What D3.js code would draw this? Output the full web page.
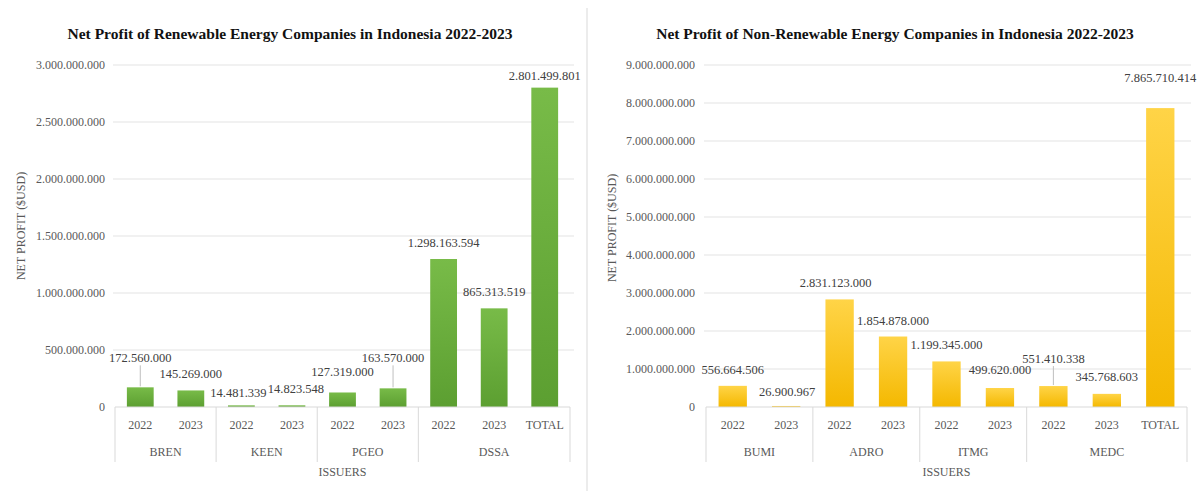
<!DOCTYPE html>
<html lang="en">
<head>
<meta charset="utf-8">
<title>Net Profit of Energy Companies in Indonesia 2022-2023</title>
<script src="https://cdn.jsdelivr.net/npm/d3@7"></script>
<style>
  body { margin: 0; background: #fff; }
  svg text { font-family: "Liberation Serif", "Times New Roman", serif; }
</style>
</head>
<body>
<script>
// --- data: renewable
var renewGroups = ["BREN", "KEEN", "PGEO", "DSSA"];
var renewGroupSizes = [2, 2, 2, 3];
var renewCats = ["2022", "2023", "2022", "2023", "2022", "2023", "2022", "2023", "TOTAL"];
var renewValues = [172560000, 145269000, 14481339, 14823548, 127319000, 163570000, 1298163594, 865313519, 2801499801];
var renewTicks = [0, 500000000, 1000000000, 1500000000, 2000000000, 2500000000, 3000000000];

// --- data: non-renewable
var nonGroups = ["BUMI", "ADRO", "ITMG", "MEDC"];
var nonGroupSizes = [2, 2, 2, 3];
var nonCats = ["2022", "2023", "2022", "2023", "2022", "2023", "2022", "2023", "TOTAL"];
var nonValues = [556664506, 26900967, 2831123000, 1854878000, 1199345000, 499620000, 551410338, 345768603, 7865710414];
var nonTicks = [0, 1000000000, 2000000000, 3000000000, 4000000000, 5000000000, 6000000000, 7000000000, 8000000000, 9000000000];

// label nudges (px) where the labels were dragged in the original, and which ones have a leader line
var renewNudge = [[0, -13], [0, 0], [-3, 4], [4, 0], [0, -4], [0, -14], [0, 0], [0, 0], [0, 4]];
var renewLeader = [true, false, false, false, false, true, false, false, false];
var nonNudge = [[0, 0], [1, 2], [-4, 0], [0, 0], [0, 0], [0, -2], [0, -11], [0, -1], [0, -14]];
var nonLeader = [false, false, false, false, false, false, true, false, false];

var W = 1197, H = 491;
var FONT = "Liberation Serif, Times New Roman, serif";
var loc = d3.formatLocale({decimal: ",", thousands: ".", grouping: [3], currency: ["$", ""]});
var fmt = loc.format(",");

var svg = d3.select("body").append("svg")
    .attr("width", W)
    .attr("height", H)
    .attr("font-family", FONT);

var defs = svg.append("defs");
function grad(id, c1, c2) {
    var g = defs.append("linearGradient").attr("id", id)
        .attr("x1", 0).attr("y1", 0).attr("x2", 0).attr("y2", 1);
    g.append("stop").attr("offset", "0%").attr("stop-color", c1);
    g.append("stop").attr("offset", "100%").attr("stop-color", c2);
}
grad("gGreen", "#78bb48", "#5c9f31");
grad("gYellow", "#ffd447", "#f4b800");

// divider between the two charts
svg.append("line")
    .attr("x1", 587).attr("x2", 587)
    .attr("y1", 8).attr("y2", H)
    .attr("stroke", "#d9d9d9");

function drawChart(o) {
    var g = svg.append("g");
    var x = d3.scaleBand()
        .domain(d3.range(o.values.length))
        .range([o.x0, o.x1])
        .padding(0);
    var y = d3.scaleLinear()
        .domain([0, d3.max(o.ticks)])
        .range([o.yBottom, o.yTop]);

    // title
    g.append("text")
        .attr("x", o.titleX).attr("y", 39)
        .attr("text-anchor", "middle")
        .attr("font-size", 15.5)
        .attr("font-weight", "bold")
        .attr("fill", "#111")
        .text(o.title);

    // gridlines
    g.selectAll(".grid")
        .data(o.ticks.slice(1))
        .enter().append("line")
        .attr("x1", o.x0 - 2).attr("x2", o.x1 + 4)
        .attr("y1", function(d) { return y(d); })
        .attr("y2", function(d) { return y(d); })
        .attr("stroke", "#e3e3e3");

    // y axis labels
    var ya = g.append("g")
        .attr("transform", "translate(" + o.x0 + ",0)")
        .call(d3.axisLeft(y).tickValues(o.ticks).tickSize(0).tickPadding(o.tickPad).tickFormat(fmt));
    ya.select(".domain").remove();
    ya.attr("font-family", FONT);
    ya.selectAll("text")
        .attr("font-size", 12)
        .attr("fill", "#595959");

    // y title
    g.append("text")
        .attr("transform", "translate(" + o.yTitleX + "," + o.yTitleY + ") rotate(-90)")
        .attr("text-anchor", "middle")
        .attr("font-size", 12)
        .attr("fill", "#595959")
        .text("NET PROFIT ($USD)");

    // bars
    var bw = x.bandwidth() * 0.53;
    g.selectAll(".bar")
        .data(o.values)
        .enter().append("rect")
        .attr("x", function(d, i) { return x(i) + (x.bandwidth() - bw) / 2; })
        .attr("y", function(d) { return y(d); })
        .attr("width", bw)
        .attr("height", function(d) { return o.yBottom - y(d); })
        .attr("fill", o.fill);

    // leader lines
    g.selectAll(".leader")
        .data(o.values.map(function(d, i) { return {v: d, i: i}; }).filter(function(d) { return o.leader[d.i]; }))
        .enter().append("line")
        .attr("x1", function(d) { return x(d.i) + x.bandwidth() / 2; })
        .attr("x2", function(d) { return x(d.i) + x.bandwidth() / 2; })
        .attr("y1", function(d) { return y(d.v) - 16 + o.nudge[d.i][1] + 7; })
        .attr("y2", function(d) { return y(d.v) - 1; })
        .attr("stroke", "#bfbfbf");

    // value labels
    g.selectAll(".val")
        .data(o.values)
        .enter().append("text")
        .attr("x", function(d, i) { return x(i) + x.bandwidth() / 2 + o.nudge[i][0]; })
        .attr("y", function(d, i) { return y(d) - 16 + o.nudge[i][1] + 4; })
        .attr("text-anchor", "middle")
        .attr("font-size", 12.5)
        .attr("fill", "#404040")
        .text(function(d) { return fmt(d); });

    // x axis baseline
    g.append("line")
        .attr("x1", o.x0).attr("x2", o.x1)
        .attr("y1", o.yBottom).attr("y2", o.yBottom)
        .attr("stroke", "#d9d9d9");

    // category labels
    g.selectAll(".cat")
        .data(o.cats)
        .enter().append("text")
        .attr("x", function(d, i) { return x(i) + x.bandwidth() / 2; })
        .attr("y", o.yBottom + 22)
        .attr("text-anchor", "middle")
        .attr("font-size", 12)
        .attr("fill", "#595959")
        .text(function(d) { return d; });

    // group separators and labels
    var starts = [0];
    o.groupSizes.forEach(function(s, i) { starts.push(starts[i] + s); });
    g.selectAll(".sep")
        .data(starts)
        .enter().append("line")
        .attr("x1", function(d) { return d < o.values.length ? x(d) : o.x1; })
        .attr("x2", function(d) { return d < o.values.length ? x(d) : o.x1; })
        .attr("y1", o.yBottom)
        .attr("y2", o.yBottom + 55)
        .attr("stroke", "#d9d9d9");

    g.selectAll(".grp")
        .data(o.groups)
        .enter().append("text")
        .attr("x", function(d, i) {
            var a = x(starts[i]);
            var b = starts[i + 1] < o.values.length ? x(starts[i + 1]) : o.x1;
            return (a + b) / 2;
        })
        .attr("y", o.yBottom + 49)
        .attr("text-anchor", "middle")
        .attr("font-size", 12)
        .attr("fill", "#595959")
        .text(function(d) { return d; });

    g.append("text")
        .attr("x", (o.x0 + o.x1) / 2)
        .attr("y", o.yBottom + 69)
        .attr("text-anchor", "middle")
        .attr("font-size", 12)
        .attr("fill", "#595959")
        .text("ISSUERS");
}

drawChart({
    title: "Net Profit of Renewable Energy Companies in Indonesia 2022-2023",
    titleX: 290,
    groups: renewGroups, groupSizes: renewGroupSizes, cats: renewCats,
    values: renewValues, ticks: renewTicks,
    nudge: renewNudge, leader: renewLeader,
    x0: 115, x1: 570, yTop: 65, yBottom: 407,
    tickPad: 10, yTitleX: 25, yTitleY: 226,
    fill: "url(#gGreen)"
});

drawChart({
    title: "Net Profit of Non-Renewable Energy Companies in Indonesia 2022-2023",
    titleX: 895,
    groups: nonGroups, groupSizes: nonGroupSizes, cats: nonCats,
    values: nonValues, ticks: nonTicks,
    nudge: nonNudge, leader: nonLeader,
    x0: 706, x1: 1187, yTop: 65, yBottom: 407,
    tickPad: 11, yTitleX: 616, yTitleY: 228,
    fill: "url(#gYellow)"
});
</script>
</body>
</html>
